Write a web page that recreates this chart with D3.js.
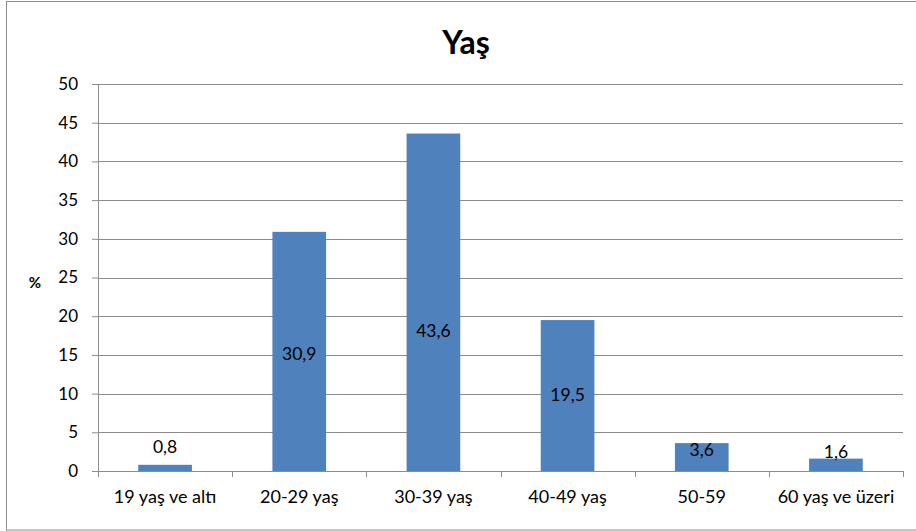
<!DOCTYPE html>
<html>
<head>
<meta charset="utf-8">
<script src="https://cdn.jsdelivr.net/npm/d3@7"></script>
<style>
  body { margin: 0; background: #fff; }
  text { font-family: Lato, "Open Sans", sans-serif; fill: #000; }
</style>
</head>
<body>
<script>
// chart data
var categories = ["19 yaş ve altı", "20-29 yaş", "30-39 yaş", "40-49 yaş", "50-59", "60 yaş ve üzeri"];
var values = [0.8, 30.9, 43.6, 19.5, 3.6, 1.6];
var labels = ["0,8", "30,9", "43,6", "19,5", "3,6", "1,6"];
var labelAt = [3.1, 15.1, 18.1, 9.8, 2.7, 2.5]; // where each data label sits, in % units
var yTicks = [0, 5, 10, 15, 20, 25, 30, 35, 40, 45, 50];

var W = 916, H = 531;
var margin = { top: 84, right: 13, bottom: 60, left: 98 };
var width = W - margin.left - margin.right;
var height = H - margin.top - margin.bottom;
var grey = "#8c8c8c";

var svg = d3.select("body").append("svg")
    .attr("width", W)
    .attr("height", H);

// outer chart border
svg.append("rect")
    .attr("x", 6.5).attr("y", 1.5)
    .attr("width", W - 6).attr("height", H - 2.5)
    .attr("fill", "none")
    .attr("stroke", grey);

svg.append("text")
    .attr("x", 466).attr("y", 54)
    .attr("text-anchor", "middle")
    .style("font-size", "32px")
    .style("font-weight", "bold")
    .text("Yaş");

var g = svg.append("g")
    .attr("transform", "translate(" + margin.left + "," + margin.top + ")");

var x = d3.scaleBand()
    .domain(categories)
    .range([0, width])
    .paddingInner(0.6)
    .paddingOuter(0.3);

var y = d3.scaleLinear()
    .domain([0, 50])
    .range([height, 0]);

// gridlines + y axis
var yAxis = g.append("g")
    .call(d3.axisLeft(y).tickValues(yTicks).tickSize(6).tickPadding(14).tickFormat(d3.format("d")));
yAxis.select(".domain").attr("stroke", grey);
yAxis.selectAll(".tick line").attr("stroke", grey);
yAxis.selectAll(".tick text").style("font-size", "17px").style("font-family", "Lato, sans-serif");

g.append("g").selectAll("line.grid")
    .data(yTicks)
    .enter().append("line")
    .attr("class", "grid")
    .attr("x1", 0).attr("x2", width)
    .attr("y1", d => Math.round(y(d)) + 0.5)
    .attr("y2", d => Math.round(y(d)) + 0.5)
    .attr("stroke", grey);

// bars
g.append("g").selectAll("rect")
    .data(values)
    .enter().append("rect")
    .attr("x", (d, i) => x(categories[i]))
    .attr("y", d => y(d))
    .attr("width", x.bandwidth())
    .attr("height", d => height - y(d))
    .attr("fill", "#4f81bd");

// x axis with ticks between categories
var xAxis = g.append("g")
    .attr("transform", "translate(0," + height + ")");
xAxis.append("line")
    .attr("x1", 0).attr("x2", width)
    .attr("y1", 0.5).attr("y2", 0.5)
    .attr("stroke", grey);
var edges = d3.range(categories.length + 1).map(i => i * width / categories.length);
xAxis.selectAll("line.tk")
    .data(edges)
    .enter().append("line")
    .attr("class", "tk")
    .attr("x1", d => Math.round(d) + 0.5).attr("x2", d => Math.round(d) + 0.5)
    .attr("y1", 0).attr("y2", 6)
    .attr("stroke", grey);
xAxis.selectAll("text")
    .data(categories)
    .enter().append("text")
    .attr("x", d => x(d) + x.bandwidth() / 2)
    .attr("y", 32)
    .attr("text-anchor", "middle")
    .style("font-size", "18px")
    .text(d => d);

// data labels
g.append("g").selectAll("text")
    .data(labels)
    .enter().append("text")
    .attr("x", (d, i) => x(categories[i]) + x.bandwidth() / 2)
    .attr("y", (d, i) => y(labelAt[i]))
    .attr("dy", "0.35em")
    .attr("text-anchor", "middle")
    .style("font-size", "17.5px")
    .text(d => d);

// y axis title
svg.append("text")
    .attr("x", 35).attr("y", 288)
    .attr("text-anchor", "middle")
    .style("font-size", "15px")
    .style("font-weight", "bold")
    .text("%");
</script>
</body>
</html>
